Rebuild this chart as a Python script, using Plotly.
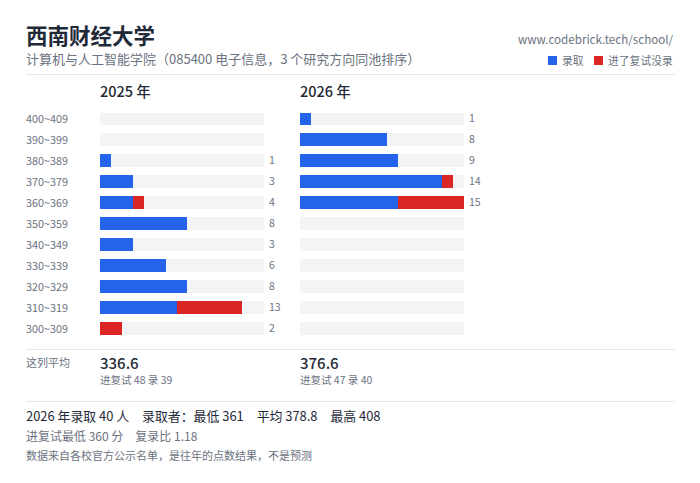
import plotly.graph_objects as go

W, H = 700, 483
FONT = "Noto Sans CJK SC"

# score bands, top to bottom
bands = ["400~409", "390~399", "380~389", "370~379", "360~369", "350~359",
         "340~349", "330~339", "320~329", "310~319", "300~309"]
admit_2025 = [0, 0, 1, 3, 3, 8, 3, 6, 8, 7, 0]
noadmit_2025 = [0, 0, 0, 0, 1, 0, 0, 0, 0, 6, 2]
admit_2026 = [1, 8, 9, 13, 9, 0, 0, 0, 0, 0, 0]
noadmit_2026 = [0, 0, 0, 1, 6, 0, 0, 0, 0, 0, 0]
scale_max = 15

BLUE = "#2563eb"
RED = "#dc2626"
TRACK = "#f3f4f6"
DARK = "#1f2937"
GREY = "#6b7280"
LINE = "#e5e7eb"
PAD = 2  # annotations sit 2px inside their anchor


def py(y):
    # pixel from top -> paper coordinate
    return 1 - y / H


def text(x, y, s, size, color=GREY, anchor="left", weight=400):
    x = x + PAD if anchor == "right" else x - PAD
    fig.add_annotation(x=x / W, y=py(y), xref="paper", yref="paper", text=s,
                       showarrow=False, xanchor=anchor, yanchor="middle",
                       font=dict(family=FONT, size=size, color=color, weight=weight))


fig = go.Figure()

# one panel per year
panels = [("x", admit_2025, noadmit_2025, 100, "2025 年", "336.6", "进复试 48 录 39"),
          ("x2", admit_2026, noadmit_2026, 300, "2026 年", "376.6", "进复试 47 录 40")]

for xa, admit, noadmit, left, year, avg, sub in panels:
    total = [a + b for a, b in zip(admit, noadmit)]
    rest = [scale_max - t for t in total]
    fig.add_bar(x=admit, y=bands, orientation="h", marker=dict(color=BLUE, line_width=0),
                xaxis=xa, yaxis="y", name="录取")
    fig.add_bar(x=noadmit, y=bands, orientation="h", marker=dict(color=RED, line_width=0),
                xaxis=xa, yaxis="y", name="进了复试没录")
    fig.add_bar(x=rest, y=bands, orientation="h", marker=dict(color=TRACK, line_width=0),
                xaxis=xa, yaxis="y", name="")
    for b, t in zip(bands, total):
        if t > 0:
            fig.add_annotation(x=scale_max, y=b, xref=xa, yref="y", text=str(t), showarrow=False,
                               xanchor="left", xshift=3, yshift=1,
                               font=dict(family=FONT, size=10.5, color=GREY))
    text(left, 90, year, 14.5, DARK, weight=500)
    text(left, 362, avg, 15, DARK, weight=500)
    text(left, 379, sub, 10.5)

for b in bands:
    fig.add_annotation(x=(26 - PAD) / W, y=b, xref="paper", yref="y", text=b, showarrow=False,
                       xanchor="left", yshift=1, font=dict(family=FONT, size=10.8, color=GREY))

# header
text(26, 35, "西南财经大学", 21.5, DARK, weight=700)
text(26, 59, "计算机与人工智能学院（085400 电子信息，3 个研究方向同池排序）", 13)
text(674, 39, "www.codebrick.tech/school/", 11.6, GREY, "right")
text(562, 60, "录取", 10.8)
text(608, 60, "进了复试没录", 10.8)

# footer
text(26, 362, "这列平均", 11)
text(26, 415.5, "2026 年录取 40 人　录取者：最低 361　平均 378.8　最高 408", 12.9, DARK)
text(26, 435.5, "进复试最低 360 分　复录比 1.18", 12)
text(26, 455, "数据来自各校官方公示名单，是往年的点数结果，不是预测", 11)

for y in [74.5, 349.5, 401.5]:
    fig.add_shape(type="line", xref="paper", yref="paper", x0=26 / W, x1=675 / W, y0=py(y), y1=py(y),
                  line=dict(color=LINE, width=1))
for x, c in [(548, BLUE), (594, RED)]:
    fig.add_shape(type="rect", xref="paper", yref="paper", x0=x / W, x1=(x + 9) / W, y0=py(56), y1=py(65),
                  fillcolor=c, line_width=0)

fig.update_layout(
    width=W, height=H, margin=dict(l=0, r=0, t=0, b=0), showlegend=False,
    paper_bgcolor="white", plot_bgcolor="white", barmode="stack", bargap=8 / 21,
    xaxis=dict(domain=[100 / W, 264 / W], range=[0, scale_max], visible=False),
    xaxis2=dict(domain=[300 / W, 464 / W], range=[0, scale_max], visible=False),
    yaxis=dict(domain=[py(339), py(108)], categoryorder="array", categoryarray=bands[::-1],
               visible=False),
)

# browser default body margin would push the chart 8px off
fig.write_html("out.html", config={"displayModeBar": False},
               post_script="document.body.style.margin='0';")
